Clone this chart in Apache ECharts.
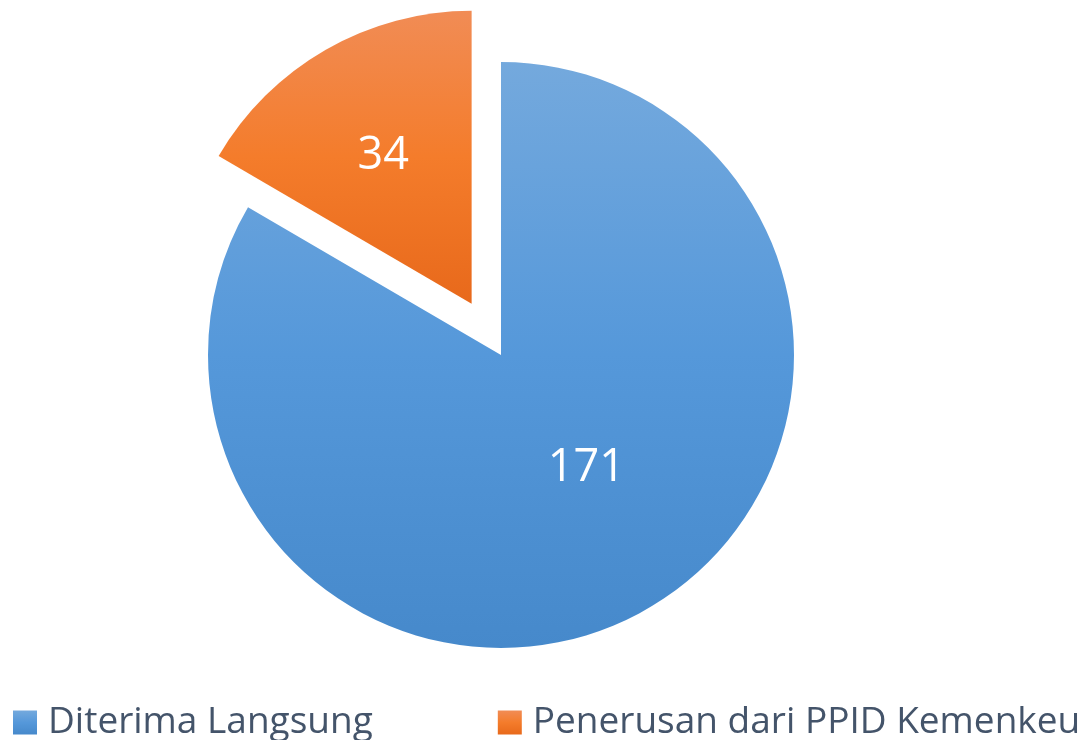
<!DOCTYPE html>
<html>
<head>
<meta charset="utf-8">
<script src="https://cdn.jsdelivr.net/npm/echarts@6/dist/echarts.min.js"></script>
<style>
  html, body { margin: 0; padding: 0; background: #fff; }
  #chart { width: 1084px; height: 740px; }
</style>
</head>
<body>
<div id="chart"></div>
<script>
var categories = ["Diterima Langsung", "Penerusan dari PPID Kemenkeu"];
var values = [171, 34];

var gradients = [
  ["#74a9dd", "#5598da", "#4689cb"],
  ["#f18c55", "#f47c2b", "#e8691b"]
];

var myChart = echarts.init(document.getElementById("chart"));

// label nudges: the exploded slice's label sits farther out than the default
var labelStyles = [
  { offset: [11, -16] },
  { padding: [0, 28, 0, 0], lineHeight: 36, formatter: "{c}\n\u00a0" }
];

var seriesData = categories.map(function(name, i) {
  return {
    name: name,
    value: values[i],
    selected: i === 1,
    itemStyle: {
      color: new echarts.graphic.LinearGradient(0, 0, 0, 1, [
        { offset: 0, color: gradients[i][0] },
        { offset: 0.5, color: gradients[i][1] },
        { offset: 1, color: gradients[i][2] }
      ])
    },
    label: labelStyles[i]
  };
});

myChart.setOption({
  animation: false,
  legend: {
    data: categories,
    left: 13,
    top: 704,
    width: 1080,
    padding: 0,
    itemWidth: 24,
    itemHeight: 24,
    itemGap: 125,
    icon: "rect",
    textStyle: {
      fontFamily: "Open Sans",
      fontSize: 37,
      color: "#44546a",
      padding: [0, 0, 0, 6]
    }
  },
  series: [
    {
      type: "pie",
      center: [501, 355],
      radius: [0, 293],
      startAngle: 90,
      clockwise: true,
      selectedMode: "single",
      selectedOffset: 59,
      label: {
        show: true,
        position: "inside",
        formatter: "{c}",
        color: "#ffffff",
        fontFamily: "Open Sans",
        fontSize: 45
      },
      labelLine: { show: false },
      emphasis: { disabled: true },
      data: seriesData
    }
  ]
});
</script>
</body>
</html>
